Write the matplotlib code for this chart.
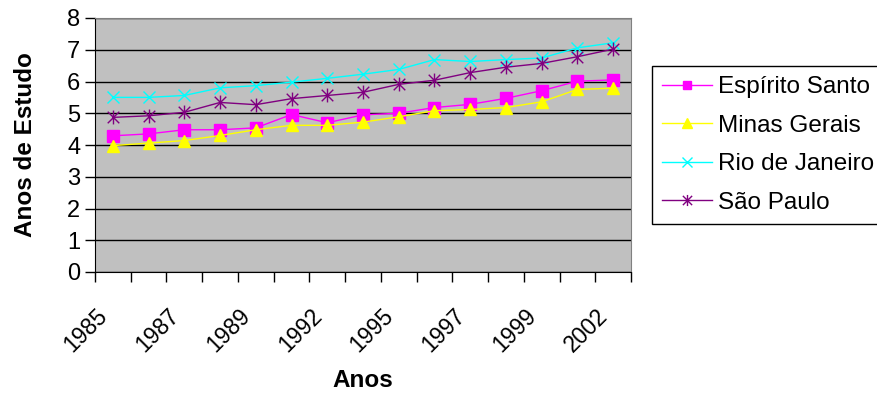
import numpy as np
import matplotlib
matplotlib.use('Agg')
from matplotlib import pyplot as plt
from matplotlib.path import Path
from matplotlib.transforms import ScaledTranslation

plt.rcParams['font.family'] = ['Liberation Sans', 'DejaVu Sans']

anos = ['1985', '1986', '1987', '1988', '1989', '1990', '1992', '1993',
        '1995', '1996', '1997', '1998', '1999', '2001', '2002']
espirito_santo = [4.29, 4.35, 4.48, 4.48, 4.54, 4.96, 4.70, 4.95,
                  5.00, 5.18, 5.28, 5.47, 5.71, 6.01, 6.05]
minas_gerais = [3.98, 4.06, 4.14, 4.30, 4.48, 4.62, 4.62, 4.72,
                4.89, 5.08, 5.12, 5.18, 5.36, 5.75, 5.79]
rio_de_janeiro = [5.50, 5.50, 5.56, 5.80, 5.87, 5.98, 6.10, 6.23,
                  6.38, 6.69, 6.63, 6.69, 6.74, 7.06, 7.22]
sao_paulo = [4.87, 4.92, 5.03, 5.34, 5.27, 5.46, 5.56, 5.66,
             5.91, 6.04, 6.28, 6.45, 6.57, 6.78, 7.02]

# marcador estrela do Excel: um "x" com um traço vertical
estrela = Path([(-1, -1), (1, 1), (-1, 1), (1, -1), (0, -1.2), (0, 1.2)],
               [Path.MOVETO, Path.LINETO, Path.MOVETO, Path.LINETO,
                Path.MOVETO, Path.LINETO])

fig = plt.figure(figsize=(8.77, 3.94), dpi=100)
ax = fig.add_axes([95 / 877, 122 / 394, 536 / 877, 254 / 394])
ax.set_facecolor('#C0C0C0')

x = np.arange(len(anos))
ax.plot(x, espirito_santo, color='#FF00FF', lw=1, marker='s', ms=8,
        mec='#FF00FF', label='Espírito Santo', zorder=3)
ax.plot(x, minas_gerais, color='#FFFF00', lw=1, marker='^', ms=9,
        mec='#FFFF00', label='Minas Gerais', zorder=3)
ax.plot(x, rio_de_janeiro, color='#00FFFF', lw=1, marker='x', ms=9,
        mew=1, label='Rio de Janeiro', zorder=3)
ax.plot(x, sao_paulo, color='#800080', lw=1, marker=estrela, ms=10,
        mew=1, mfc='none', label='São Paulo', zorder=3)

ax.set_xlim(-0.5, len(anos) - 0.5)
ax.set_ylim(0, 8)
ax.set_yticks(range(0, 9))
ax.yaxis.grid(True, color='black', lw=1)
ax.set_axisbelow(True)

ax.set_xticks(np.arange(-0.5, len(anos), 1))
ax.set_xticklabels([])
ax.set_xticks(x[::2], minor=True)
ax.set_xticklabels(anos[::2], minor=True, rotation=45, ha='right',
                   rotation_mode='anchor')
ax.tick_params(axis='x', which='minor', length=0, pad=23, labelsize=16.5)
ax.tick_params(axis='both', which='major', direction='out', length=7,
               width=1, color='black', labelsize=17)
desloc = ScaledTranslation(-17 / 100, 0, fig.dpi_scale_trans)
for rot in ax.get_xticklabels(minor=True):
    rot.set_transform(rot.get_transform() + desloc)

for lado in ['top', 'right']:
    ax.spines[lado].set_color('#808080')
for lado in ['left', 'bottom']:
    ax.spines[lado].set_color('black')

ax.set_xlabel('Anos', fontsize=17.5, fontweight='bold', labelpad=9)
ax.set_ylabel('Anos de Estudo', fontsize=17.5, fontweight='bold', labelpad=22)

leg = ax.legend(loc='upper left', bbox_to_anchor=(652 / 877, 1 - 66 / 394),
                bbox_transform=fig.transFigure, fontsize=17.5, frameon=True,
                fancybox=False, edgecolor='black', framealpha=1,
                handlelength=2.05, labelspacing=0.68, borderpad=0.42,
                handletextpad=0.25, borderaxespad=0, markerscale=0.8)
leg.get_frame().set_linewidth(1)

fig.savefig('out.png', dpi=100)
